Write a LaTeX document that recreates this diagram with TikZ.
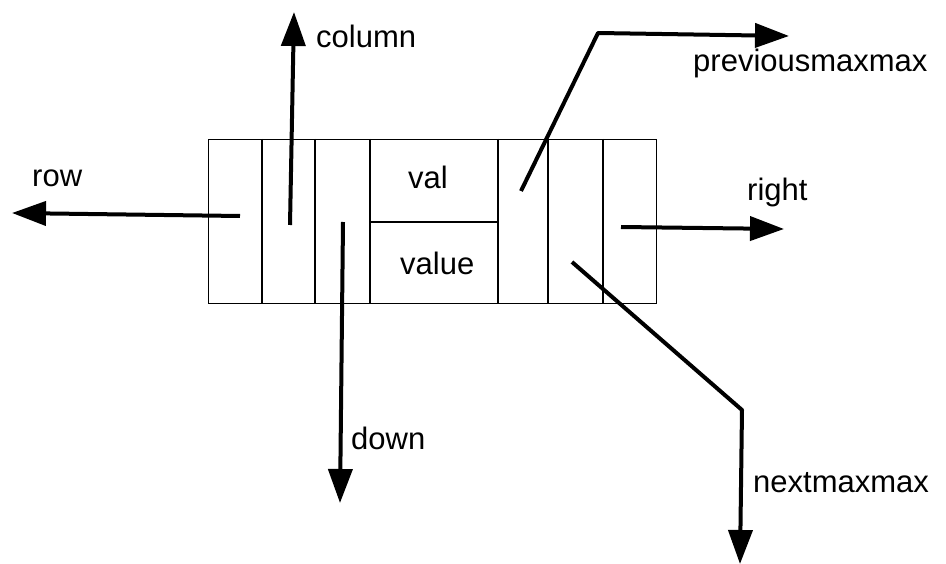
\documentclass[tikz,border=0pt]{standalone}
\usepackage{fontspec}
\setmainfont{Liberation Sans}
\usetikzlibrary{arrows.meta}
\begin{document}
\begin{tikzpicture}[x=1pt,y=-1pt,
  cellline/.style={line width=1.4pt},
  ptr/.style={line width=4pt,line join=round,-{Triangle[length=34pt,width=24pt]}},
  lbl/.style={inner sep=0pt,anchor=base west,font=\fontsize{31}{31}\selectfont}]
\useasboundingbox (0,0) rectangle (946,564);

% the record: outer frame, field dividers, val/value split
\node[cellline,draw,minimum width=448pt,minimum height=164pt,inner sep=0pt,anchor=north west] (rec) at (208,139) {};
\foreach \x in {262,315,370,498,548,603}
  \draw[cellline] (\x,139) -- (\x,303);
\draw[cellline] (370,222) -- (498,222);

\node[lbl] (val)   at (408,189) {val};
\node[lbl] (value) at (400,275) {value};

% pointer fields: start points, bends and targets
\coordinate (rowS)   at (240,216);
\coordinate (rowT)   at (12,213);
\coordinate (colS)   at (290,225);
\coordinate (colT)   at (294,12);
\coordinate (downS)  at (343,222);
\coordinate (downT)  at (340,503);
\coordinate (prevS)  at (521,191);
\coordinate (prevB)  at (598,33);
\coordinate (prevT)  at (789,36);
\coordinate (rightS) at (621,227);
\coordinate (rightT) at (784,229);
\coordinate (nextS)  at (572,262);
\coordinate (nextB)  at (742,410);
\coordinate (nextT)  at (740,564);

\draw[ptr] (rowS) -- (rowT);
\draw[ptr] (colS) -- (colT);
\draw[ptr] (downS) -- (downT);
\draw[ptr] (prevS) -- (prevB) -- (prevT);
\draw[ptr] (rightS) -- (rightT);
\draw[ptr] (nextS) -- (nextB) -- (nextT);

% field names
\node[lbl] (row)    at (32,187)  {row};
\node[lbl] (column) at (316,48)  {column};
\node[lbl] (down)   at (351,449) {down};
\node[lbl] (prev)   at (693,72)  {previousmaxmax};
\node[lbl] (right)  at (747,201) {right};
\node[lbl] (next)   at (753,492) {nextmaxmax};
\end{tikzpicture}
\end{document}
